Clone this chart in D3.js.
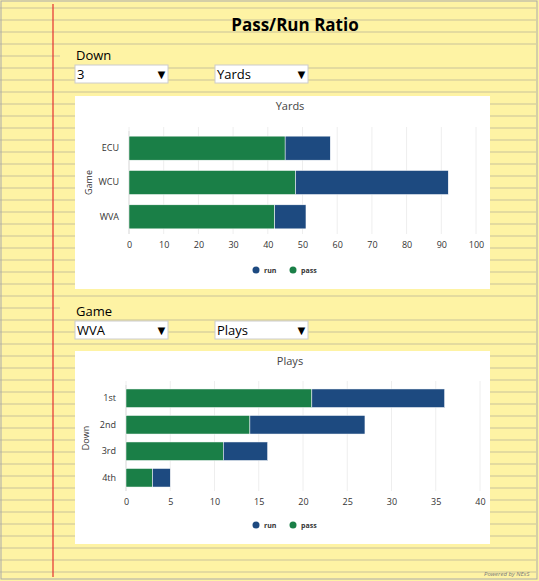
<!DOCTYPE html>
<html><head><meta charset="utf-8">
<script src="https://cdn.jsdelivr.net/npm/d3@7"></script>
<style>body{margin:0;background:#fff;font-family:"Open Sans",sans-serif}</style>
</head><body><svg id="c" width="539" height="581"></svg>
<script>
var games = ["ECU", "WCU", "WVA"];
var yardsPass = [45, 48, 42];
var yardsRun = [13, 44, 9];
var downs = ["1st", "2nd", "3rd", "4th"];
var playsPass = [21, 14, 11, 3];
var playsRun = [15, 13, 5, 2];
var yardTicks = [0,10,20,30,40,50,60,70,80,90,100];
var playTicks = [0,5,10,15,20,25,30,35,40];

var green = "#1a7f47", blue = "#1d4a80";
var svg = d3.select("#c");

// legal pad background
svg.append("rect").attr("width",539).attr("height",581).attr("fill","#fef3a4");
svg.append("g").selectAll("line").data(d3.range(8, 575, 12)).join("line")
  .attr("x1",0).attr("x2",536).attr("y1",d=>d).attr("y2",d=>d)
  .attr("stroke","#c9c29a").attr("stroke-width",1);
svg.append("line").attr("x1",53).attr("x2",53).attr("y1",4).attr("y2",577)
  .attr("stroke","#e53030").attr("stroke-width",1.2);
svg.append("rect").attr("x",1).attr("y",1).attr("width",536).attr("height",578)
  .attr("fill","none").attr("stroke","#aaa");

svg.append("text").attr("x",295).attr("y",31).attr("text-anchor","middle")
  .attr("font-size",17).attr("font-weight","bold").text("Pass/Run Ratio");
svg.append("text").attr("x",484).attr("y",576).attr("text-anchor","start")
  .attr("font-size",6).attr("font-style","italic").attr("fill","#777").text("Powered by NExS");

function dropdowns(y, label, a, b){
  svg.append("rect").attr("x",60).attr("y",y-14).attr("width",476).attr("height",14).attr("fill","#fef3a4");
  svg.append("text").attr("x",76).attr("y",y).attr("font-size",13).text(label);
  [[75,a],[215,b]].forEach(function(p){
    svg.append("rect").attr("x",p[0]).attr("y",y+5).attr("width",93).attr("height",18).attr("fill","#fff").attr("stroke","#ccc");
    svg.append("text").attr("x",p[0]+2).attr("y",y+19).attr("font-size",13).text(p[1]);
    svg.append("text").attr("x",p[0]+80).attr("y",y+19).attr("font-size",13).text("▼");
  });
}
dropdowns(60, "Down", "3", "Yards");
dropdowns(316, "Game", "WVA", "Plays");

function chart(top, title, yTitle, cats, pass, run, ticks, x0, x1, y0, y1, pad){
  svg.append("rect").attr("x",75).attr("y",top).attr("width",415).attr("height",193).attr("fill","#fff");
  var g = svg.append("g").attr("font-family","Open Sans");
  g.append("text").attr("x",290).attr("y",top+14).attr("text-anchor","middle").attr("font-size",11).attr("fill","#444").text(title);
  var x = d3.scaleLinear().domain([0, ticks[ticks.length-1]]).range([x0, x1]);
  var y = d3.scaleBand().domain(cats).range([y0, y1]).paddingInner(pad).paddingOuter(pad/2);
  g.append("g").selectAll("line").data(ticks).join("line")
    .attr("x1",d=>x(d)).attr("x2",d=>x(d)).attr("y1",y0-4).attr("y2",y1)
    .attr("stroke","#eee");
  var ax = g.append("g").attr("transform","translate(0,"+(y1+2)+")")
    .call(d3.axisBottom(x).tickValues(ticks).tickSize(0).tickPadding(6));
  ax.select(".domain").remove();
  ax.selectAll("text").attr("font-size",9).attr("fill","#333").attr("font-family","Open Sans");
  var ay = g.append("g").attr("transform","translate("+(x0-6)+",0)")
    .call(d3.axisLeft(y).tickSize(0).tickPadding(4));
  ay.select(".domain").remove();
  ay.selectAll("text").attr("font-size",9).attr("fill","#333").attr("font-family","Open Sans");
  g.append("line").attr("x1",x0).attr("x2",x0).attr("y1",y0).attr("y2",y1).attr("stroke","#ddd");
  g.append("text").attr("transform","translate("+(x0-37)+","+((y0+y1)/2)+") rotate(-90)")
    .attr("text-anchor","middle").attr("font-size",9).attr("fill","#333").text(yTitle);
  g.append("g").selectAll("rect").data(cats).join("rect")
    .attr("x",x(0)).attr("y",d=>y(d)).attr("height",y.bandwidth())
    .attr("width",(d,i)=>x(pass[i])-x(0)).attr("fill",green).attr("stroke","#fff").attr("stroke-width",0.5);
  g.append("g").selectAll("rect").data(cats).join("rect")
    .attr("x",(d,i)=>x(pass[i])).attr("y",d=>y(d)).attr("height",y.bandwidth())
    .attr("width",(d,i)=>x(pass[i]+run[i])-x(pass[i])).attr("fill",blue).attr("stroke","#fff").attr("stroke-width",0.5);
  var ly = top + 177;
  [["run",blue,256],["pass",green,293]].forEach(function(l){
    g.append("circle").attr("cx",l[2]).attr("cy",ly-3).attr("r",3.5).attr("fill",l[1]);
    g.append("text").attr("x",l[2]+8).attr("y",ly).attr("font-size",7).attr("font-weight","bold").attr("fill","#333").text(l[0]);
  });
}
chart(96, "Yards", "Game", games, yardsPass, yardsRun, yardTicks, 129, 476, 131, 234, 0.3);
chart(351, "Plays", "Down", downs, playsPass, playsRun, playTicks, 126, 480, 385, 491, 0.3);
</script></body></html>
